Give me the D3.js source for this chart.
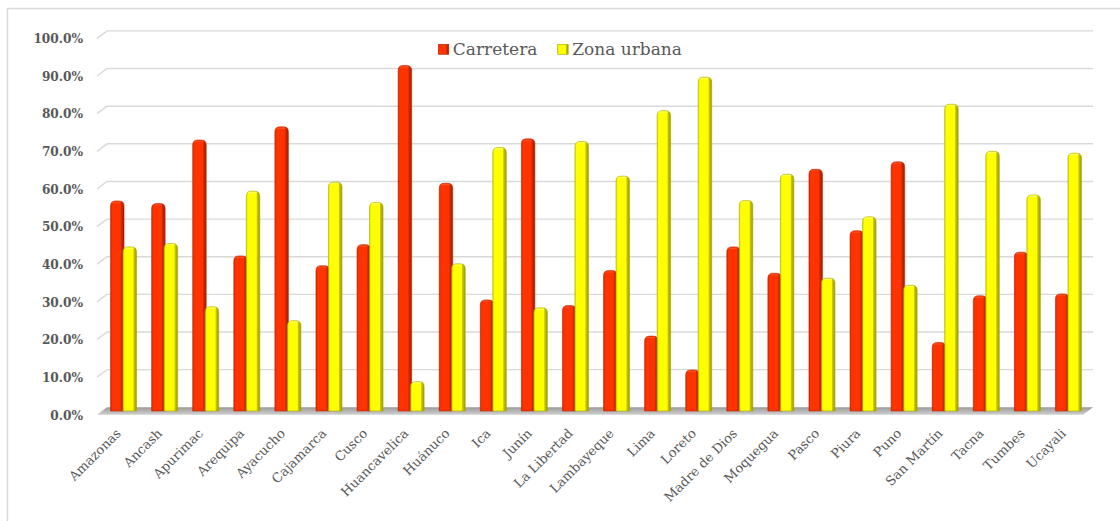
<!DOCTYPE html>
<html><head><meta charset="utf-8">
<script src="https://cdn.jsdelivr.net/npm/d3@7"></script>
<style>html,body{margin:0;padding:0;background:#fff;}svg{display:block;}</style>
</head><body>
<svg id="chart" width="1120" height="521"></svg>
<script>
const categories = ["Amazonas","Ancash","Apurimac","Arequipa","Ayacucho","Cajamarca","Cusco","Huancavelica","Huánuco","Ica","Junín","La Libertad","Lambayeque","Lima","Loreto","Madre de Dios","Moquegua","Pasco","Piura","Puno","San Martín","Tacna","Tumbes","Ucayali"];
const carretera = [55.8,55.1,72.0,41.2,75.5,38.6,44.2,91.8,60.5,29.5,72.3,28.0,37.3,19.9,10.9,43.6,36.6,64.2,47.9,66.2,18.2,30.6,42.2,31.1];
const zonaUrbana = [43.6,44.5,27.7,58.4,24.0,60.8,55.4,7.8,39.1,70.0,27.4,71.6,62.4,79.8,88.7,55.9,62.9,35.3,51.6,33.4,81.5,69.0,57.4,68.5];
const seriesNames = ["Carretera","Zona urbana"];
const yTicks = [0,10,20,30,40,50,60,70,80,90,100];

const svg = d3.select("#chart");
const defs = svg.append("defs");
function hGrad(id, stops){
  const g = defs.append("linearGradient").attr("id",id).attr("x1","0").attr("x2","1").attr("y1","0").attr("y2","0");
  stops.forEach(s=>g.append("stop").attr("offset",s[0]).attr("stop-color",s[1]));
}
hGrad("gRed",[["0%","#d02800"],["12%","#ff3300"],["72%","#ff3300"],["78%","#d82b00"],["100%","#a01c00"]]);
hGrad("gYel",[["0%","#dede00"],["12%","#ffff00"],["74%","#ffff00"],["80%","#c9c900"],["100%","#9a9a00"]]);
const fg = defs.append("linearGradient").attr("id","gFloor").attr("x1","0").attr("x2","0").attr("y1","0").attr("y2","1");
fg.append("stop").attr("offset","0%").attr("stop-color","#9a9a9a");
fg.append("stop").attr("offset","100%").attr("stop-color","#d0d0d0");

// chart border
svg.append("rect").attr("x",7.5).attr("y",8.5).attr("width",1200).attr("height",600)
  .attr("fill","none").attr("stroke","#d9d9d9").attr("stroke-width",1.5);

// scales (mid depth plane)
const x = d3.scaleBand().domain(categories).range([102,1088]).padding(0);
const y = d3.scaleLinear().domain([0,100]).range([411,34.6]);
const x1 = d3.scaleBand().domain(seriesNames).range([-12,13]);
const back = {dx:5, dy:-3.7}, front = {dx:-5, dy:3.8};
const xL = x.range()[0], xR = x.range()[1];

// gridlines
const grid = svg.append("g");
yTicks.forEach(t=>{
  if(t===0) return;
  const yb = y(t)+back.dy, yf = y(t)+front.dy;
  grid.append("path")
    .attr("d",`M${xL+front.dx},${yf}L${xL+back.dx},${yb}L${xR+back.dx},${yb}`)
    .attr("fill","none").attr("stroke","#d9d9d9").attr("stroke-width",1.4);
});

// floor
const y0b = y(0)+back.dy, y0f = y(0)+front.dy;
svg.append("path")
  .attr("d",`M${xL+back.dx},${y0b}L${xR+back.dx},${y0b}L${xR+front.dx},${y0f}L${xL+front.dx},${y0f}Z`)
  .attr("fill","url(#gFloor)");

// y labels
svg.append("g").selectAll("text").data(yTicks).join("text")
  .attr("x",83).attr("y",d=>y(d)+front.dy+1.2)
  .attr("text-anchor","end").attr("dominant-baseline","middle")
  .attr("font-family","DejaVu Serif").attr("font-stretch","condensed").attr("font-weight","bold")
  .attr("font-size",13.5).attr("fill","#595959")
  .text(d=>d.toFixed(1)+"%");

// bars
function barPath(x0,w,yt,yb){
  const r = Math.min(5, (yb-yt)/2);
  return `M${x0},${yb}L${x0},${yt+r}Q${x0},${yt} ${x0+r},${yt}L${x0+w-r},${yt}Q${x0+w},${yt} ${x0+w},${yt+r}L${x0+w},${yb}Z`;
}
const data = categories.map((c,i)=>({c, vals:[carretera[i], zonaUrbana[i]]}));
const bw = x1.bandwidth()+1;
const fills = ["url(#gRed)","url(#gYel)"];
const strokes = ["#b82400","#a8a800"];
const caps = ["#ff5a2a","#ffff70"];
const gBars = svg.append("g");
data.forEach(d=>{
  const cx = x(d.c)+x.bandwidth()/2;
  d.vals.forEach((v,si)=>{
    const bx = cx + x1(seriesNames[si]);
    gBars.append("path").attr("d",barPath(bx,bw,y(v),y(0)))
      .attr("fill",fills[si]).attr("stroke",strokes[si]).attr("stroke-width",0.6);
    gBars.append("path").attr("d",`M${bx+2.5},${y(v)+1.4}L${bx+bw-3.5},${y(v)+1.4}`)
      .attr("stroke",caps[si]).attr("stroke-width",1.2).attr("stroke-linecap","round").attr("opacity",0.8);
  });
});

// x labels
svg.append("g").selectAll("text").data(categories).join("text")
  .attr("transform",d=>`translate(${x(d)+x.bandwidth()/2-4},${431}) rotate(-45)`)
  .attr("text-anchor","end").attr("dy","0.35em")
  .attr("font-family","DejaVu Serif").attr("font-size",13).attr("fill","#595959")
  .text(d=>d);

// legend
const legend = svg.append("g");
const legX = [438.3, 557.7];
seriesNames.forEach((s,i)=>{
  legend.append("rect").attr("x",legX[i]).attr("y",44.3).attr("width",10.5).attr("height",10)
    .attr("fill",fills[i]).attr("stroke",strokes[i]).attr("stroke-width",0.6);
  legend.append("text").attr("x",legX[i]+14.5).attr("y",54.5)
    .attr("font-family","DejaVu Serif").attr("font-size",17).attr("fill","#595959")
    .text(s);
});
</script>
</body></html>
